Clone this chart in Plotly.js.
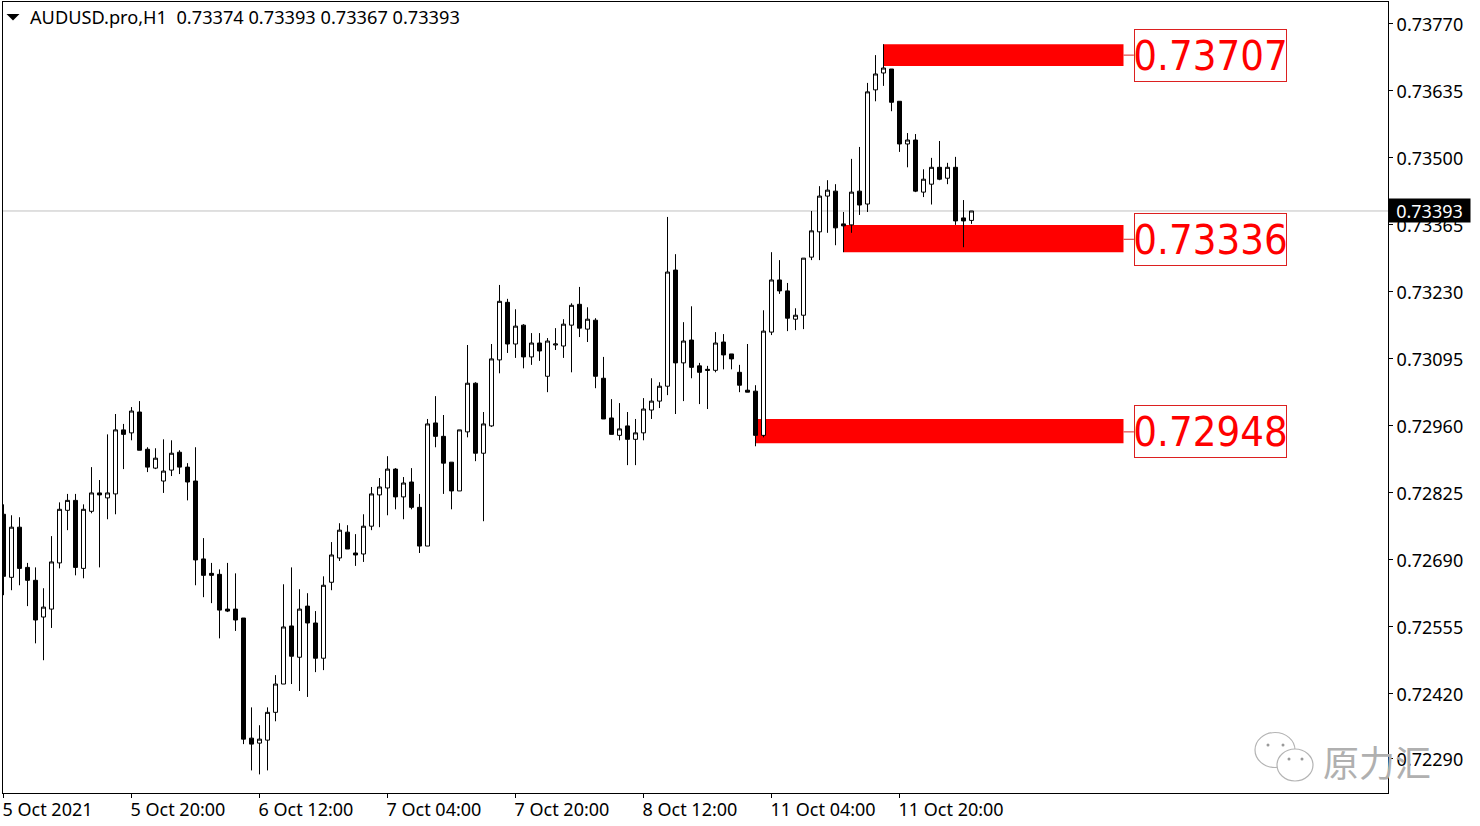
<!DOCTYPE html>
<html><head><meta charset="utf-8">
<script src="https://cdn.plot.ly/plotly-3.0.1.min.js"></script>
<style>html,body{margin:0;padding:0;background:#fff}#chart{width:1480px;height:826px}</style>
</head><body><div id="chart"></div>
<script>
const opens=[0.72782,0.72655,0.72756,0.72675,0.72649,0.72575,0.72591,0.72684,0.72790,0.72810,
0.72673,0.72788,0.72825,0.72815,0.72823,0.72952,0.72946,0.72988,0.72913,0.72875,
0.72849,0.72871,0.72907,0.72877,0.72849,0.72692,0.72663,0.72661,0.72591,0.72591,
0.72573,0.72331,0.72321,0.72327,0.72383,0.72440,0.72557,0.72494,0.72597,0.72563,
0.72492,0.72645,0.72694,0.72746,0.72704,0.72702,0.72758,0.72821,0.72835,0.72873,
0.72817,0.72847,0.72796,0.72718,0.72966,0.72939,0.72887,0.72829,0.72948,0.73046,
0.72905,0.72960,0.73093,0.73209,0.73125,0.73163,0.73099,0.73127,0.73060,0.73123,
0.73121,0.73163,0.73205,0.73155,0.73173,0.73056,0.72976,0.72941,0.72960,0.72933,
0.72946,0.72992,0.73010,0.73040,0.73274,0.73087,0.73133,0.73081,0.73074,0.73072,
0.73129,0.73105,0.73068,0.73032,0.73030,0.72941,0.73149,0.73254,0.73232,0.73175,
0.73183,0.73300,0.73351,0.73423,0.73433,0.73367,0.73365,0.73433,0.73407,0.73637,
0.73671,0.73679,0.73614,0.73528,0.73536,0.73431,0.73447,0.73481,0.73459,0.73481,
0.73379,0.73374];
const highs=[0.72802,0.72780,0.72776,0.72684,0.72675,0.72633,0.72738,0.72806,0.72823,0.72823,
0.72802,0.72877,0.72851,0.72943,0.72984,0.72964,0.72998,0.73010,0.72917,0.72915,
0.72933,0.72931,0.72911,0.72885,0.72917,0.72734,0.72684,0.72671,0.72684,0.72663,
0.72573,0.72393,0.72357,0.72393,0.72458,0.72641,0.72675,0.72631,0.72623,0.72587,
0.72657,0.72726,0.72764,0.72760,0.72742,0.72782,0.72837,0.72855,0.72899,0.72875,
0.72857,0.72875,0.72823,0.72974,0.73020,0.72982,0.72887,0.72952,0.73123,0.73048,
0.72988,0.73125,0.73244,0.73216,0.73195,0.73165,0.73147,0.73147,0.73137,0.73157,
0.73175,0.73207,0.73240,0.73199,0.73177,0.73099,0.73014,0.73006,0.72988,0.72974,
0.73016,0.73056,0.73048,0.73381,0.73306,0.73169,0.73201,0.73087,0.73081,0.73149,
0.73145,0.73105,0.73083,0.73125,0.73042,0.73193,0.73310,0.73294,0.73248,0.73197,
0.73298,0.73393,0.73443,0.73455,0.73447,0.73391,0.73498,0.73522,0.73651,0.73707,
0.73729,0.73679,0.73614,0.73550,0.73548,0.73477,0.73500,0.73534,0.73490,0.73502,
0.73415,0.73393];
const lows=[0.72619,0.72629,0.72639,0.72597,0.72522,0.72488,0.72553,0.72673,0.72750,0.72659,
0.72653,0.72784,0.72675,0.72772,0.72782,0.72873,0.72931,0.72911,0.72867,0.72873,
0.72825,0.72859,0.72863,0.72810,0.72639,0.72615,0.72603,0.72532,0.72585,0.72547,
0.72319,0.72266,0.72258,0.72266,0.72365,0.72440,0.72440,0.72426,0.72414,0.72464,
0.72468,0.72629,0.72688,0.72712,0.72678,0.72686,0.72750,0.72756,0.72780,0.72792,
0.72772,0.72792,0.72704,0.72718,0.72917,0.72823,0.72792,0.72829,0.72937,0.72889,
0.72768,0.72958,0.73066,0.73107,0.73097,0.73076,0.73083,0.73091,0.73028,0.73113,
0.73097,0.73068,0.73139,0.73129,0.73036,0.72974,0.72943,0.72931,0.72881,0.72881,
0.72931,0.72974,0.72996,0.73022,0.72984,0.73010,0.73056,0.73004,0.72994,0.73068,
0.73074,0.73074,0.73028,0.73028,0.72919,0.72937,0.73143,0.73226,0.73151,0.73153,
0.73155,0.73294,0.73294,0.73349,0.73324,0.73310,0.73349,0.73385,0.73391,0.73614,
0.73645,0.73594,0.73512,0.73481,0.73431,0.73421,0.73406,0.73455,0.73447,0.73365,
0.73320,0.73367];
const closes=[0.72657,0.72756,0.72673,0.72649,0.72569,0.72595,0.72686,0.72792,0.72810,0.72675,
0.72792,0.72825,0.72821,0.72825,0.72952,0.72943,0.72990,0.72911,0.72877,0.72895,
0.72869,0.72905,0.72877,0.72847,0.72690,0.72659,0.72659,0.72589,0.72587,0.72569,
0.72329,0.72319,0.72329,0.72383,0.72440,0.72555,0.72496,0.72591,0.72563,0.72492,
0.72639,0.72700,0.72750,0.72712,0.72700,0.72758,0.72823,0.72837,0.72873,0.72817,
0.72845,0.72796,0.72718,0.72964,0.72939,0.72885,0.72829,0.72952,0.73046,0.72905,
0.72964,0.73095,0.73211,0.73125,0.73161,0.73099,0.73127,0.73111,0.73131,0.73125,
0.73165,0.73203,0.73157,0.73175,0.73060,0.72974,0.72943,0.72954,0.72933,0.72946,
0.72994,0.73010,0.73040,0.73270,0.73087,0.73131,0.73078,0.73068,0.73072,0.73127,
0.73103,0.73095,0.73042,0.73028,0.72941,0.73151,0.73254,0.73232,0.73177,0.73183,
0.73298,0.73353,0.73423,0.73435,0.73359,0.73363,0.73431,0.73405,0.73633,0.73669,
0.73681,0.73612,0.73528,0.73536,0.73433,0.73457,0.73481,0.73457,0.73481,0.73373,
0.73373,0.73393];
const barIndex=opens.map((_,i)=>i);
const dateTickBars=[0,16,32,48,64,80,96,112];
const dateTickLabels=['5 Oct 2021','5 Oct 20:00','6 Oct 12:00','7 Oct 04:00','7 Oct 20:00','8 Oct 12:00','11 Oct 04:00','11 Oct 20:00'];
const priceTicks=[0.73770,0.73635,0.73500,0.73365,0.73230,0.73095,0.72960,0.72825,0.72690,0.72555,0.72420,0.72290];
const priceTickLabels=['0.73770','0.73635','0.73500','0.73365','0.73230','0.73095','0.72960','0.72825','0.72690','0.72555','0.72420','0.72290'];
const zoneStartBars=[110,105,94];
const zoneEndBar=140;
const zoneTops=[0.73729,0.73365,0.72974];
const zoneBottoms=[0.73685,0.73310,0.72925];
const zoneLevels=[0.73707,0.73336,0.72948];
const lastPrice=0.73393;
const headerText='AUDUSD.pro,H1&nbsp;&nbsp;0.73374 0.73393 0.73367 0.73393';
const watermarkText='原力汇';

const W=1480,H=826,L=3,T=2,R=92,B=33;
const px=x=>(x-L)/(W-L-R), py=y=>1-(y-T)/(H-T-B);
const FONT='"Noto Sans", sans-serif';
const pshape=o=>Object.assign({xref:'paper',yref:'paper'},o);
const ell=(cx,cy,rx,ry,extra)=>pshape(Object.assign({type:'circle',x0:px(cx-rx),x1:px(cx+rx),y0:py(cy-ry),y1:py(cy+ry),layer:'above'},extra));
const bubble={fillcolor:'#ffffff',line:{color:'#b4b4b4',width:1.2}};
const eye={fillcolor:'#9a9a9a',line:{width:0}};

const shapes=[];
zoneLevels.forEach((lv,i)=>{
  shapes.push({type:'rect',xref:'x',yref:'y',x0:zoneStartBars[i],x1:zoneEndBar,y0:zoneBottoms[i],y1:zoneTops[i],fillcolor:'#ff0000',line:{width:0},layer:'below'});
  shapes.push({type:'line',xref:'x',yref:'y',x0:zoneEndBar,x1:141.3,y0:lv,y1:lv,line:{color:'#dc2020',width:1},layer:'below'});
});
shapes.push({type:'line',xref:'paper',yref:'y',x0:0,x1:1,y0:lastPrice,y1:lastPrice,line:{color:'#c0c0c0',width:1},layer:'below'});
shapes.push(pshape({type:'path',path:`M ${px(6.5)} ${py(14)} L ${px(19.5)} ${py(14)} L ${px(13)} ${py(20.5)} Z`,fillcolor:'#000',line:{width:0}}));
shapes.push(ell(1275,750,20,17.5,bubble));
shapes.push(ell(1295,765,18,16,bubble));
[[1268,745],[1283,745],[1289,759],[1302,759]].forEach(p=>shapes.push(ell(p[0],p[1],1.5,1.5,eye)));

const annotations=zoneLevels.map(lv=>({xref:'x',yref:'y',x:150.9,y:lv,text:lv.toFixed(5),showarrow:false,
  font:{family:'"DejaVu Sans Condensed","DejaVu Sans",sans-serif',stretch:'condensed',size:41.5,color:'#ff0000'},
  bordercolor:'#dc2020',borderwidth:1,borderpad:0,width:151,height:51,align:'center',valign:'middle',xanchor:'center',yanchor:'middle'}));
annotations.push({xref:'paper',yref:'paper',x:px(28),y:py(17),xanchor:'left',yanchor:'middle',text:headerText,showarrow:false,font:{family:FONT,size:18.2,color:'#000'}});
annotations.push({xref:'paper',yref:'y',x:px(1429.5),y:lastPrice,text:lastPrice.toFixed(5),showarrow:false,xanchor:'center',yanchor:'middle',
  bgcolor:'#000',width:81,height:23,borderpad:0,font:{family:FONT,size:18,color:'#fff'}});
annotations.push({xref:'paper',yref:'paper',x:px(1377),y:py(761),text:watermarkText,showarrow:false,xanchor:'center',yanchor:'middle',
  font:{family:'"Noto Sans CJK SC",sans-serif',size:36,color:'#b0b0b0'}});

Plotly.newPlot('chart',[{
  type:'candlestick',x:barIndex,open:opens,high:highs,low:lows,close:closes,whiskerwidth:0,
  increasing:{line:{color:'#000',width:1},fillcolor:'#ffffff'},
  decreasing:{line:{color:'#000',width:1},fillcolor:'#000000'},
  hoverinfo:'skip',showlegend:false
}],{
  width:W,height:H,margin:{l:L,t:T,r:R,b:B,pad:0},paper_bgcolor:'#fff',plot_bgcolor:'#fff',showlegend:false,boxgap:0.5,boxgroupgap:0,
  xaxis:{type:'linear',range:[-0.0625,173.0625],rangeslider:{visible:false},tickmode:'array',tickvals:dateTickBars,ticktext:dateTickLabels,
    ticks:'outside',ticklen:4,tickcolor:'#000',tickwidth:1,ticklabelposition:'outside right',ticklabelshift:-2,showgrid:false,zeroline:false,
    showline:true,linecolor:'#000',linewidth:1,mirror:true,tickfont:{family:FONT,size:18,color:'#000'}},
  yaxis:{side:'right',range:[0.722205,0.73814],tickmode:'array',tickvals:priceTicks,ticktext:priceTickLabels,
    ticks:'outside',ticklen:4,tickcolor:'#000',tickwidth:1,ticklabelshift:1,showgrid:false,zeroline:false,
    showline:true,linecolor:'#000',linewidth:1,mirror:true,tickfont:{family:FONT,size:18,color:'#000'}},
  shapes,annotations
},{staticPlot:true,displayModeBar:false});
</script></body></html>
